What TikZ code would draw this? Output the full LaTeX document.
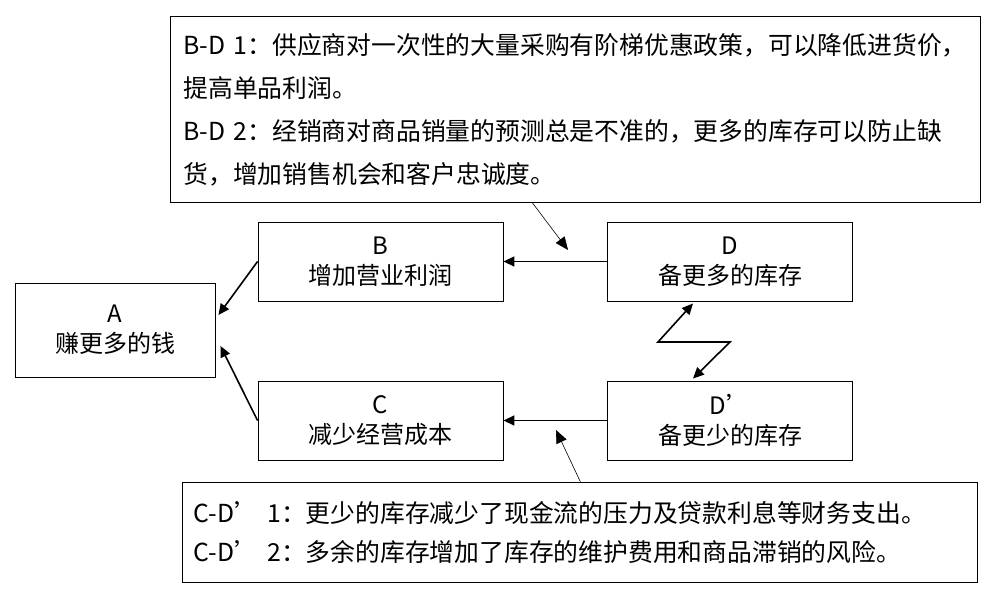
\documentclass[tikz,border=0pt]{standalone}
\usepackage{fontspec}
\setmainfont{Noto Sans CJK SC}
\usetikzlibrary{arrows.meta,calc}

\begin{document}
\begin{tikzpicture}[x=1pt, y=-1pt,
    box/.style={draw, line width=0.9pt, minimum width=245pt, minimum height=79pt, align=center, inner sep=0pt, font=\fontsize{24}{30}\selectfont},
    note/.style={draw, line width=0.9pt, anchor=north west, align=left, inner ysep=0pt},
    flow/.style={-{Triangle[length=11pt,width=10pt]}, line width=1.6pt},
    hint/.style={-{Triangle[length=13pt,width=11pt]}, line width=0.6pt}]
    \useasboundingbox (0,0) rectangle (1001,591);
    % main boxes
    \node[box, minimum width=200pt, minimum height=94pt] (A) at (115,330) {A\\赚更多的钱};
    \node[box] (B) at (380.5,261.5) {B\\增加营业利润};
    \node[box] (C) at (380.5,420.5) {C\\减少经营成本};
    \node[box] (D) at (730,261.5) {D\\备更多的库存};
    \node[box] (Dp) at (730,420.5) {D’\\备更少的库存};

    % notes
    \node[note, text width=784pt, inner xsep=13pt, minimum height=186pt, font=\fontsize{24.8}{43}\selectfont] (BDnote) at (170,16)
        {B-D 1：供应商对一次性的大量采购有阶梯优惠政策，可以降低进货价，\\提高单品利润。\\B-D 2：经销商对商品销量的预测总是不准的，更多的库存可以防止缺\\货，增加销售机会和客户忠诚度。};
    \node[note, text width=773pt, inner xsep=11pt, minimum height=100pt, font=\fontsize{24.8}{39}\selectfont] (CDnote) at (182,482)
        {C-D’ 1：更少的库存减少了现金流的压力及贷款利息等财务支出。\\C-D’ 2：多余的库存增加了库存的维护费用和商品滞销的风险。};

    % connectors
    \draw[flow] (B.west) -- ([xshift=3pt,yshift=15pt]A.east);
    \draw[flow] (C.west) -- ([xshift=5pt,yshift=-16pt]A.east);
    \draw[flow] (D.west) -- (B.east);
    \draw[flow] (Dp.west) -- (C.east);
    \coordinate (zl) at (658,342);
    \coordinate (zr) at (730,342);
    \draw[{Triangle[length=11pt,width=10pt]}-{Triangle[length=11pt,width=10pt]}, line width=1.6pt]
        ([xshift=-37pt,yshift=-2pt]D.south) -- (zl) -- (zr) -- ([xshift=-37pt,yshift=2pt]Dp.north);
    \coordinate (bdtip) at (568,250);
    \coordinate (cdtip) at (556,430);
    \draw[hint] ([xshift=-43pt]BDnote.south) -- (bdtip);
    \draw[hint] ([xshift=0.5pt]CDnote.north) -- (cdtip);
\end{tikzpicture}
\end{document}
